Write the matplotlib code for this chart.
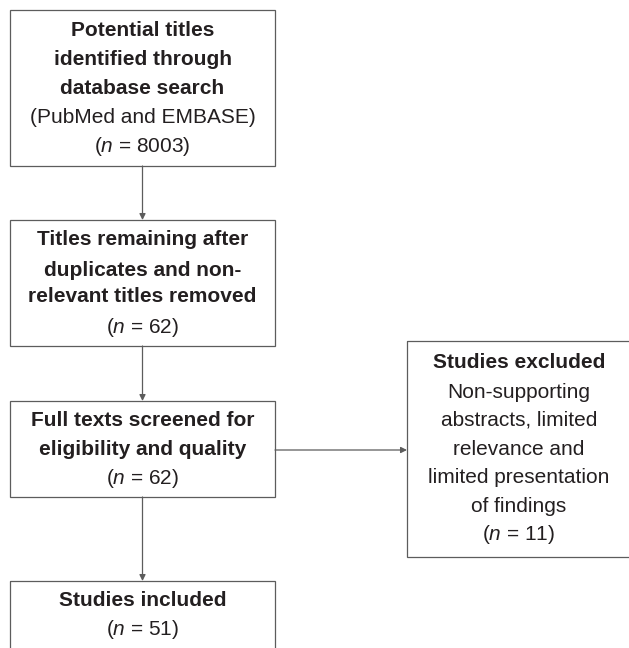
import matplotlib
matplotlib.use('Agg')
import matplotlib.pyplot as plt
from matplotlib.patches import Rectangle

plt.rcParams['font.family'] = ['Liberation Sans', 'DejaVu Sans']
plt.rcParams['mathtext.fontset'] = 'custom'
plt.rcParams['mathtext.rm'] = 'Liberation Sans'
plt.rcParams['mathtext.it'] = 'Liberation Sans:italic'

# flowchart content
counts = [8003, 62, 62, 11, 51]
bold_lines = [
    ['Potential titles', 'identified through', 'database search'],
    ['Titles remaining after', 'duplicates and non-', 'relevant titles removed'],
    ['Full texts screened for', 'eligibility and quality'],
    ['Studies excluded'],
    ['Studies included'],
]
plain_lines = [
    ['(PubMed and EMBASE)'],
    [],
    [],
    ['Non-supporting', 'abstracts, limited', 'relevance and', 'limited presentation', 'of findings'],
    [],
]

# layout (pixels, y downwards)
boxes = [(10, 10, 275, 166), (10, 220, 275, 346), (10, 401, 275, 497),
         (407, 341, 635, 557), (10, 581, 275, 660)]
baselines = [
    [35.5, 65, 94, 123, 152.5],
    [245, 276.5, 302.5, 333],
    [426, 455, 484],
    [367.5, 397.5, 425.5, 455, 483, 511.5, 540],
    [606, 635],
]
text_x = [142.5, 142.5, 142.5, 519, 142.5]

line_col = '#5c5c5c'
text_col = '#231f20'
fs = 15

fig = plt.figure(figsize=(6.29, 6.48), dpi=100)
ax = fig.add_axes([0, 0, 1, 1])
ax.set_xlim(0, 629)
ax.set_ylim(648, 0)
ax.axis('off')

for i, (x0, y0, x1, y1) in enumerate(boxes):
    ax.add_patch(Rectangle((x0, y0), x1 - x0, y1 - y0, fill=False,
                           edgecolor=line_col, lw=0.9))
    lines = [(s, 'bold') for s in bold_lines[i]] + [(s, 'normal') for s in plain_lines[i]]
    lines.append((r'($\mathit{n}$ = %d)' % counts[i], 'normal'))
    for (s, w), yb in zip(lines, baselines[i]):
        ax.text(text_x[i], yb, s, ha='center', va='baseline', fontsize=fs,
                fontweight=w, color=text_col)

arrow = dict(arrowstyle='-|>', mutation_scale=9, shrinkA=0, shrinkB=0,
             lw=0.9, color=line_col)
cx = 142.5
for a, b in [(0, 1), (1, 2), (2, 4)]:
    ax.annotate('', xy=(cx, boxes[b][1]), xytext=(cx, boxes[a][3]), arrowprops=arrow)
ax.annotate('', xy=(boxes[3][0], 450), xytext=(boxes[2][2], 450), arrowprops=arrow)

plt.savefig('out.png', dpi=100, facecolor='white')
